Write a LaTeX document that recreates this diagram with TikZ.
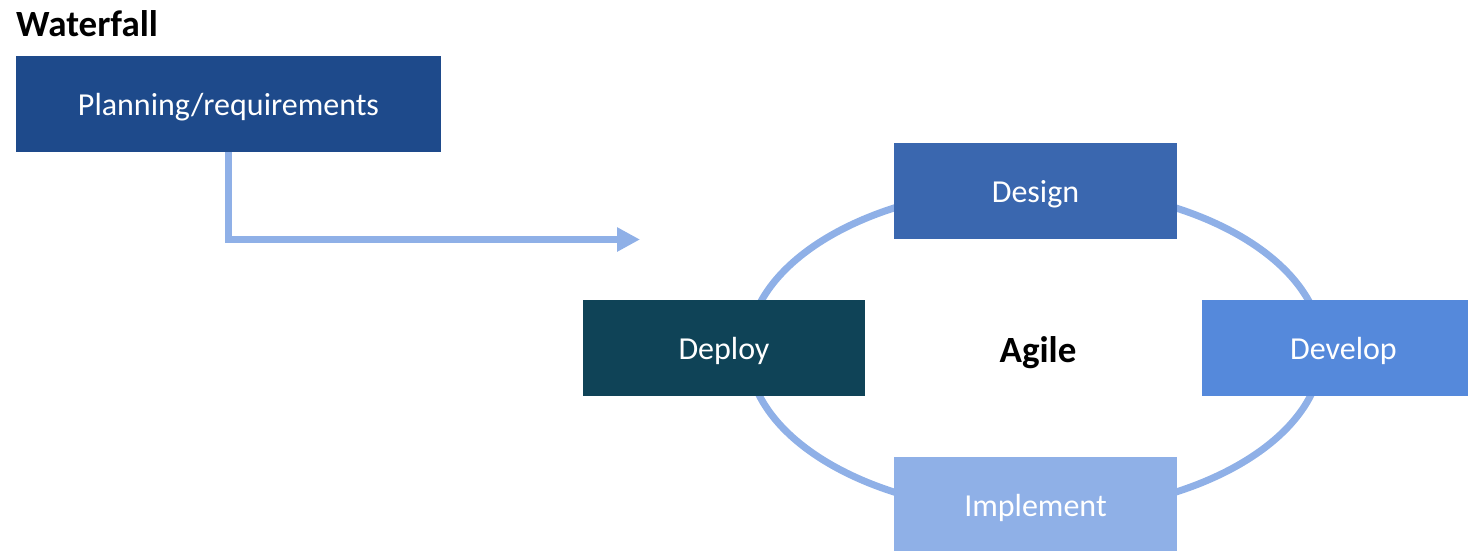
\documentclass[tikz,border=0pt]{standalone}
\usepackage{fontspec}
\setmainfont{Carlito}
\usetikzlibrary{positioning,arrows.meta}
\definecolor{planblue}{HTML}{1E4A8B}
\definecolor{designblue}{HTML}{3A67AF}
\definecolor{deployteal}{HTML}{0F4357}
\definecolor{developblue}{HTML}{5589DB}
\definecolor{implementblue}{HTML}{8FB0E7}
\definecolor{linkblue}{HTML}{8FB0E7}

\begin{document}
\begin{tikzpicture}[x=1pt, y=-1pt,
        phasenode/.style={rectangle, text=white, minimum height=96pt, inner sep=0pt, text height=23pt, text depth=0pt, font=\fontsize{32}{36}\selectfont},
        titlenode/.style={inner sep=0pt, font=\bfseries\fontsize{37}{42}\selectfont},
        linkline/.style={draw=linkblue, line width=7pt},
        ]
        \useasboundingbox (0,0) rectangle (1468,550);
        %Cycle
        \draw[linkline] (1035,350) ellipse [x radius=287pt, y radius=163pt];
        %Nodes
        \node[titlenode, anchor=base west] (waterfall) at (16,36) {Waterfall};
        \node[phasenode, fill=planblue, minimum width=425pt] (plan) at (228.5,104) {Planning/requirements};
        \node[titlenode, anchor=base] (agile) at (1038,362) {Agile};
        \node[phasenode, fill=designblue, minimum width=283pt] (design) at (1035.5,191) {Design};
        \node[phasenode, fill=deployteal, minimum width=282pt] (deploy) at (724,347.5) {Deploy};
        \node[phasenode, fill=developblue, minimum width=283pt] (develop) at (1343.5,347.5) {Develop};
        \node[phasenode, fill=implementblue, minimum width=283pt] (implement) at (1035.5,505) {Implement};
        \coordinate (handoff) at (640,239.5);
        %Arrow
        \draw[linkline, -{Triangle[length=23pt, width=23pt]}] (plan.south) |- (handoff);
\end{tikzpicture}
\end{document}
